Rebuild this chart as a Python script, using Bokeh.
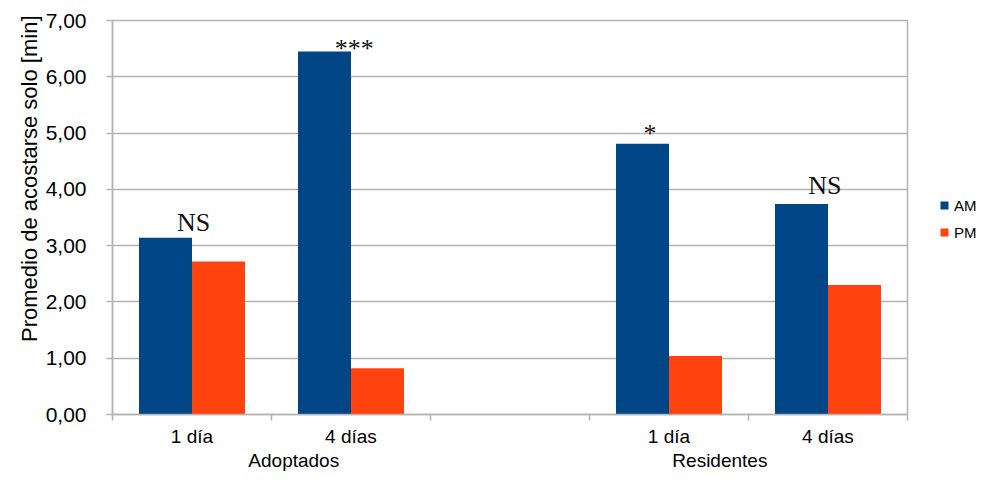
from bokeh.plotting import figure
from bokeh.layouts import row
from bokeh.models import (ColumnDataSource, FixedTicker, LinearAxis, Range1d,
                          Legend, LegendItem, Title)
from bokeh.core.properties import value
from bokeh.embed import file_html
from bokeh.resources import INLINE

# ---- data ----
groups = ["Adoptados", "Residentes"]
days = ["1 día", "4 días"]
am_values = [3.14, 6.45, 4.81, 3.74]
pm_values = [2.72, 0.82, 1.04, 2.30]
sig_labels = ["NS", "***", "*", "NS"]
sig_y = [3.42, 6.51, 4.99, 4.06]
sig_dx = [0.01, 0.02, -0.12, -0.02]
y_ticks = [0, 1, 2, 3, 4, 5, 6, 7]
y_tick_labels = ["0,00", "1,00", "2,00", "3,00", "4,00", "5,00", "6,00", "7,00"]
group_label_pos = [1.14, 3.82]
y_title = "Promedio de acostarse solo [min]"
series_names = ["AM", "PM"]
colors = ["#004586", "#ff420e"]

# slots: each group has len(days) slots, plus one empty slot between groups
centers = []
cat_labels = []
for gi, g in enumerate(groups):
    for di, d in enumerate(days):
        centers.append(gi * (len(days) + 1) + di + 0.5)
        cat_labels.append(d)
n_slots = len(groups) * (len(days) + 1) - 1
bw = 1.0 / 3.0

src = ColumnDataSource(dict(
    x_am=[c - bw / 2 for c in centers],
    x_pm=[c + bw / 2 for c in centers],
    am=am_values, pm=pm_values,
))
ann = ColumnDataSource(dict(
    x=[c + dx for c, dx in zip(centers, sig_dx)], y=sig_y, t=sig_labels))

GRID = "#b3b3b3"
FONT = "Liberation Sans"
TXT = "#000000"

TOTAL_W, H = 977, 473
W = 909
TOP, BOTTOM = 20, 58
p = figure(width=W, height=H, output_backend="svg", toolbar_location=None,
           x_range=Range1d(0, n_slots), y_range=Range1d(0, 7),
           min_border_left=112, min_border_right=2, min_border_top=TOP,
           min_border_bottom=BOTTOM)
p.outline_line_color = GRID
p.outline_line_width = 1.5
p.background_fill_color = "white"
p.border_fill_color = "white"

r_am = p.vbar(x="x_am", top="am", width=bw, source=src, fill_color=colors[0],
              line_color=None)
r_pm = p.vbar(x="x_pm", top="pm", width=bw, source=src, fill_color=colors[1],
              line_color=None)

p.text(x="x", y="y", text="t", source=ann, text_align="center",
       text_baseline="alphabetic", text_font=value("Liberation Serif"),
       text_font_size="26px", text_color="#111111")

# grid
p.xgrid.visible = False
p.ygrid.ticker = FixedTicker(ticks=y_ticks)
p.ygrid.grid_line_color = GRID
p.ygrid.grid_line_width = 1.5

# y axis
ya = p.yaxis[0]
ya.ticker = FixedTicker(ticks=y_ticks)
ya.major_label_overrides = {t: l for t, l in zip(y_ticks, y_tick_labels)}
ya.major_label_text_font = FONT
ya.major_label_text_font_size = "21px"
ya.major_label_text_color = TXT
ya.major_label_standoff = 20
ya.major_tick_out = 6
ya.major_tick_in = 0
ya.minor_tick_line_color = None
ya.major_tick_line_color = GRID
ya.axis_line_color = GRID
ya.axis_line_width = 1.5
ya.major_tick_line_width = 1.5

# y title, aligned toward the top like the reference
p.add_layout(Title(text=y_title, align="right", offset=-5, standoff=2,
                   text_font=FONT, text_font_size="22px",
                   text_font_style="normal", text_color=TXT), "left")

# x axis: labels at slot centres, tick marks (minor) at slot boundaries
xa = p.xaxis[0]
xa.ticker = FixedTicker(ticks=centers, minor_ticks=list(range(n_slots + 1)))
xa.major_label_overrides = {c: l for c, l in zip(centers, cat_labels)}
xa.major_label_text_font = FONT
xa.major_label_text_font_size = "19px"
xa.major_label_text_color = TXT
xa.major_label_standoff = 5
xa.major_tick_out = 6
xa.major_tick_in = 0
xa.major_tick_line_color = None
xa.minor_tick_out = 6
xa.minor_tick_in = 0
xa.minor_tick_line_color = GRID
xa.minor_tick_line_width = 1.5
xa.axis_line_color = GRID
xa.axis_line_width = 1.5

# group labels
xa3 = LinearAxis(ticker=FixedTicker(ticks=group_label_pos),
                 major_label_overrides={c: l for c, l in zip(group_label_pos, groups)},
                 axis_line_color=None, major_tick_line_color=None,
                 minor_tick_line_color=None, major_tick_out=0, major_tick_in=0,
                 major_label_standoff=0, major_label_text_font=FONT,
                 major_label_text_font_size="19px",
                 major_label_text_color=TXT)
p.add_layout(xa3, "below")

# legend in a narrow companion figure to the right
lw = TOTAL_W - W
lf = figure(width=lw, height=H, output_backend="svg", toolbar_location=None,
            x_range=Range1d(0, 1), y_range=Range1d(0, 1),
            min_border_left=0, min_border_right=0, min_border_top=TOP,
            min_border_bottom=BOTTOM)
lf.axis.visible = False
lf.grid.visible = False
lf.outline_line_color = None
lf.background_fill_color = "white"
lf.border_fill_color = "white"
# legend swatches (their single box lies outside the visible range)
lsrc = ColumnDataSource(dict(x=[5.0], top=[5.0]))
d_am = lf.vbar(x="x", top="top", width=0.1, source=lsrc,
               fill_color=colors[0], line_color=None)
d_pm = lf.vbar(x="x", top="top", width=0.1, source=lsrc,
               fill_color=colors[1], line_color=None)
frame_h = H - TOP - BOTTOM
legend_h = 10 + 20 + 7 + 20 + 10
legend_top = 166  # px below the frame top
legend = Legend(items=[LegendItem(label=series_names[0], renderers=[d_am]),
                       LegendItem(label=series_names[1], renderers=[d_pm])],
                location=(20, frame_h - legend_top - legend_h), margin=0,
                padding=10, glyph_width=10, glyph_height=10, label_height=20,
                spacing=7, label_standoff=5, label_text_font=FONT,
                label_text_font_size="15px", label_text_color=TXT,
                border_line_alpha=0, background_fill_alpha=0)
lf.add_layout(legend, "center")

layout = row(p, lf, spacing=0)
open("out.html", "w").write(file_html(layout, INLINE))
